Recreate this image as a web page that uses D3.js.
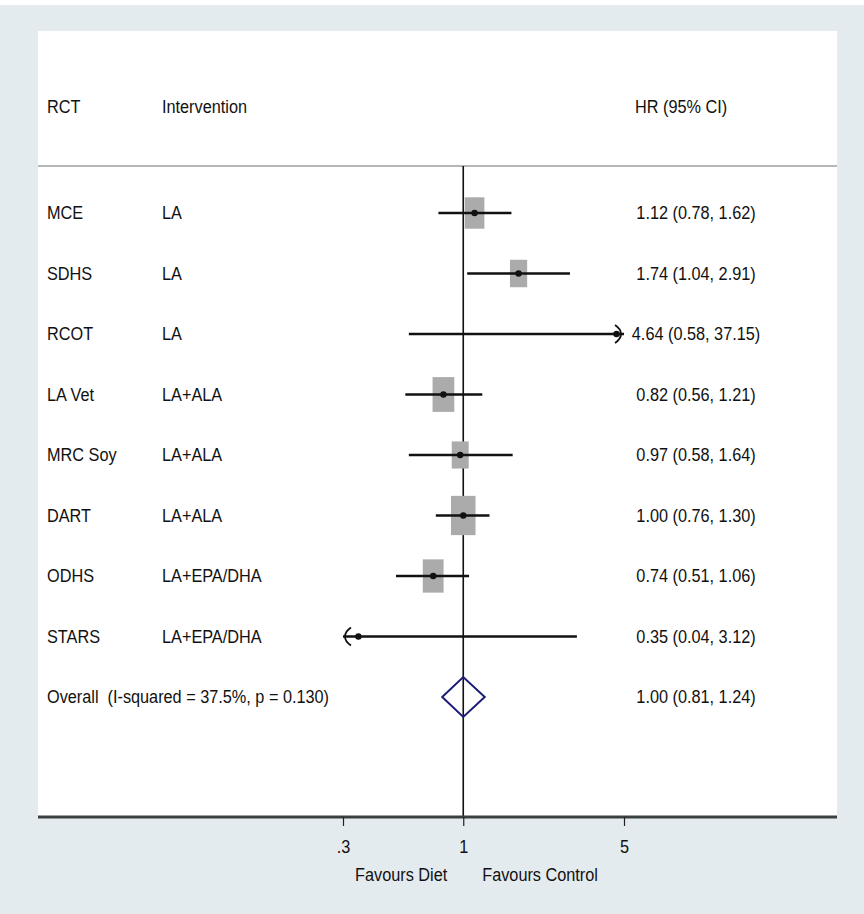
<!DOCTYPE html>
<html>
<head>
<meta charset="utf-8">
<script src="https://cdn.jsdelivr.net/npm/d3@7"></script>
<style>
  html, body { margin: 0; padding: 0; background: #ffffff; }
  svg { display: block; }
  text { font-family: "Liberation Sans", Arial, Helvetica, sans-serif; fill: #111; }
</style>
</head>
<body>
<svg id="chart" width="864" height="914"></svg>
<script>
// ---------------- data ----------------
const studies = ["MCE", "SDHS", "RCOT", "LA Vet", "MRC Soy", "DART", "ODHS", "STARS"];
const interventions = ["LA", "LA", "LA", "LA+ALA", "LA+ALA", "LA+ALA", "LA+EPA/DHA", "LA+EPA/DHA"];
const hr    = [1.12, 1.74, 4.64, 0.82, 0.97, 1.00, 0.74, 0.35];
const lower = [0.78, 1.04, 0.58, 0.56, 0.58, 0.76, 0.51, 0.04];
const upper = [1.62, 2.91, 37.15, 1.21, 1.64, 1.30, 1.06, 3.12];
const weights = [15.4, 11.8, 0.3, 18.9, 11.5, 24.1, 17.3, 0.3]; // estimated % weights
const hrLabels = ["1.12 (0.78, 1.62)", "1.74 (1.04, 2.91)", "4.64 (0.58, 37.15)", "0.82 (0.56, 1.21)",
                  "0.97 (0.58, 1.64)", "1.00 (0.76, 1.30)", "0.74 (0.51, 1.06)", "0.35 (0.04, 3.12)"];
const overall = { label: "Overall  (I-squared = 37.5%, p = 0.130)", hr: 1.00, lower: 0.81, upper: 1.24, text: "1.00 (0.81, 1.24)" };
const headers = ["RCT", "Intervention", "HR (95% CI)"];
const tickValues = [0.3, 1, 5];
const tickLabels = [".3", "1", "5"];
const favourLabels = ["Favours Diet", "Favours Control"];

// ---------------- layout ----------------
const W = 864, H = 914;
const panel = { x0: 38, y0: 31, x1: 837, y1: 817 };
const svg = d3.select("#chart");
const SX = 0.88; // horizontal squeeze of text
const fs = 18.5;

svg.append("rect").attr("x", 0).attr("y", 0).attr("width", W).attr("height", H).attr("fill", "#ffffff");
svg.append("rect").attr("x", 0).attr("y", 5).attr("width", W).attr("height", H - 5).attr("fill", "#e4ebee");
svg.append("rect").attr("x", panel.x0).attr("y", panel.y0)
   .attr("width", panel.x1 - panel.x0).attr("height", panel.y1 - panel.y0).attr("fill", "#ffffff");

const x = d3.scaleLog().domain([0.3, 5]).range([343, 624]);
const rows = studies.concat(["Overall"]);
const y = d3.scalePoint().domain(rows).range([213, 697]);

const colRCT = 47, colInt = 162, colHR = 635, colHRc = 696;

function txt(sel, tx, ty, s, anchor) {
  return sel.append("text")
    .attr("transform", `translate(${tx},${ty}) scale(${SX},1)`)
    .attr("dy", "0.35em").attr("font-size", fs)
    .attr("text-anchor", anchor || "start").text(s);
}

// header
headers.forEach((h, i) => txt(svg, [colRCT, colInt, colHR][i], 107, h));

// header separator
svg.append("line").attr("x1", panel.x0).attr("x2", panel.x1).attr("y1", 166).attr("y2", 166)
  .attr("stroke", "#b4b8ba").attr("stroke-width", 2);

// reference line at 1
svg.append("line").attr("x1", x(1)).attr("x2", x(1)).attr("y1", 166).attr("y2", panel.y1)
  .attr("stroke", "#111").attr("stroke-width", 1.6);

const data = studies.map((s, i) => ({
  study: s, interv: interventions[i], hr: hr[i], lo: lower[i], hi: upper[i], w: weights[i], label: hrLabels[i]
}));
const [dmin, dmax] = x.domain();

const g = svg.append("g");
const bw = d => 5.0 * Math.sqrt(d.w);
// boxes
g.selectAll("rect.box").data(data).join("rect").attr("class", "box")
  .attr("x", d => x(d.hr) - bw(d) / 2)
  .attr("y", d => y(d.study) - 1.6 * bw(d) / 2)
  .attr("width", d => bw(d))
  .attr("height", d => 1.6 * bw(d))
  .attr("fill", "#ababab");

// CI lines
g.selectAll("line.ci").data(data).join("line").attr("class", "ci")
  .attr("x1", d => x(Math.max(d.lo, dmin))).attr("x2", d => x(Math.min(d.hi, dmax)))
  .attr("y1", d => y(d.study)).attr("y2", d => y(d.study))
  .attr("stroke", "#111").attr("stroke-width", 2.4);

// arrows for clipped CIs
const arrowPath = (tipX, cy, dir) => {
  const bx = tipX - dir * 6;
  return `M${bx},${cy - 9} Q${tipX},${cy - 5} ${tipX},${cy} Q${tipX},${cy + 5} ${bx},${cy + 9}`;
};
data.forEach(d => {
  if (d.hi > dmax) g.append("path").attr("d", arrowPath(x(dmax) - 3, y(d.study), 1))
    .attr("fill", "none").attr("stroke", "#111").attr("stroke-width", 1.8);
  if (d.lo < dmin) g.append("path").attr("d", arrowPath(x(dmin) + 2, y(d.study), -1))
    .attr("fill", "none").attr("stroke", "#111").attr("stroke-width", 1.8);
});

// point estimate dots
g.selectAll("circle.pt").data(data).join("circle").attr("class", "pt")
  .attr("cx", d => x(d.hr)).attr("cy", d => y(d.study)).attr("r", 3.2).attr("fill", "#111");

// overall diamond
const oy = y("Overall"), dh = 20;
svg.append("path")
  .attr("d", `M${x(overall.lower)},${oy} L${x(overall.hr)},${oy - dh} L${x(overall.upper)},${oy} L${x(overall.hr)},${oy + dh} Z`)
  .attr("fill", "none").attr("stroke", "#1c1c78").attr("stroke-width", 2);

// text columns
const tg = svg.append("g");
data.forEach(d => {
  txt(tg, colRCT, y(d.study), d.study);
  txt(tg, colInt, y(d.study), d.interv);
  txt(tg, colHRc, y(d.study), d.label, "middle");
});
txt(tg, colRCT, oy, overall.label).attr("xml:space", "preserve").style("white-space", "pre");
txt(tg, colHRc, oy, overall.text, "middle");

// bottom axis
svg.append("line").attr("x1", panel.x0).attr("x2", panel.x1).attr("y1", panel.y1).attr("y2", panel.y1)
  .attr("stroke", "#3a3f40").attr("stroke-width", 3);
const axis = d3.axisBottom(x).tickValues(tickValues)
  .tickFormat((d, i) => tickLabels[i]).tickSize(9).tickPadding(14);
const ag = svg.append("g").attr("transform", `translate(0,${panel.y1})`).call(axis);
ag.select(".domain").remove();
ag.selectAll(".tick line").attr("stroke", "#222").attr("stroke-width", 1.2);
ag.selectAll(".tick text").attr("font-size", fs).attr("fill", "#111")
  .attr("font-family", "'Liberation Sans', Arial, sans-serif")
  .attr("transform", `scale(${SX},1)`);

// favours labels
txt(svg, x(1) - 16, 875, favourLabels[0], "end");
txt(svg, x(1) + 19, 875, favourLabels[1], "start");
</script>
</body>
</html>
